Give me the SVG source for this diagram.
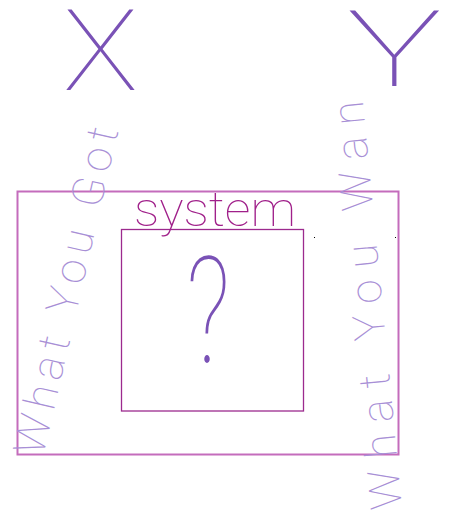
<svg xmlns="http://www.w3.org/2000/svg" width="459" height="519" viewBox="0 0 459 519">
<style>
.hand{font-family:Roboto,Lato,"Open Sans","Liberation Sans",sans-serif;font-weight:100}
.side{fill:#a88fd6;font-size:44px}
.xy{fill:#7a52b6}
.outer{fill:none;stroke:#c46cbc;stroke-width:2}
.inner{fill:none;stroke:#9c2a8e;stroke-width:1.3}
</style>
<rect width="459" height="519" fill="#ffffff"/>
<g id="x-label"><text class="hand xy" x="63" y="90" font-size="114" textLength="75" lengthAdjust="spacingAndGlyphs">X</text></g>
<g id="y-label"><text class="hand xy" x="347" y="86" font-size="106" textLength="95" lengthAdjust="spacingAndGlyphs">Y</text></g>
<g id="outer-box"><rect class="outer" x="17.5" y="191.5" width="381" height="263"/></g>
<g id="system-box">
<rect class="inner" x="121.5" y="229.5" width="182" height="181.5"/>
<text class="hand" x="134" y="226" font-size="48" fill="#a0208a" font-weight="300" textLength="162" lengthAdjust="spacingAndGlyphs">system</text>
<text class="hand xy" x="186" y="363" font-size="148" textLength="44" lengthAdjust="spacingAndGlyphs">?</text>
</g>
<g id="what-you-got"><text class="hand side" transform="translate(43,457) rotate(-77)" textLength="335" lengthAdjust="spacing">What You Got</text></g>
<g id="what-you-want"><text class="hand side" transform="translate(402,508) rotate(-95.5)" font-size="48" textLength="410" lengthAdjust="spacing">What You Wan</text></g>
<g id="specks" fill="#000000"><rect x="314" y="237" width="1" height="1"/><rect x="395" y="237" width="1" height="1"/></g>
</svg>
